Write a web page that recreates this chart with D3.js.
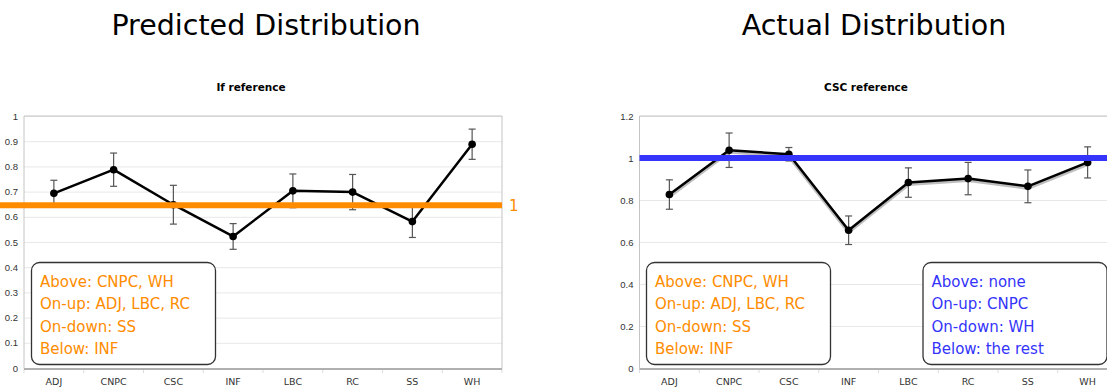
<!DOCTYPE html>
<html>
<head>
<meta charset="UTF-8">
<title>Predicted vs Actual Distribution</title>
<script src="https://d3js.org/d3.v7.min.js"></script>
<style>
  body { margin: 0; background: #fff; }
  svg { display: block; font-family: "DejaVu Sans", Verdana, sans-serif; }
  .grid line { stroke: #e8e8e8; }
  .grid text { fill: #333; font-size: 9.5px; }
  .xlab { fill: #333; font-size: 9.5px; text-anchor: middle; }
</style>
</head>
<body>
<svg width="1107" height="389"></svg>
<script>
  // categories on the x axis (both charts)
  var categories = ['ADJ', 'CNPC', 'CSC', 'INF', 'LBC', 'RC', 'SS', 'WH']

  // left chart: "If reference"
  var predictedMeans = [0.693, 0.787, 0.648, 0.522, 0.703, 0.698, 0.581, 0.888]
  var predictedErr = [0.052, 0.066, 0.077, 0.051, 0.067, 0.070, 0.063, 0.060]
  var predictedTicks = [0, 0.1, 0.2, 0.3, 0.4, 0.5, 0.6, 0.7, 0.8, 0.9, 1]
  var predictedRef = 0.646

  // right chart: "CSC reference"
  var actualMeans = [0.826, 1.037, 1.018, 0.656, 0.883, 0.902, 0.865, 0.979]
  var actualErr = [0.070, 0.082, 0.032, 0.068, 0.070, 0.077, 0.078, 0.074]
  var actualTicks = [0, 0.2, 0.4, 0.6, 0.8, 1, 1.2]
  var actualRef = 1

  // annotation boxes
  var orangeNotes = ['Above: CNPC, WH', 'On-up: ADJ, LBC, RC', 'On-down: SS', 'Below: INF']
  var blueNotes = ['Above: none', 'On-up: CNPC', 'On-down: WH', 'Below: the rest']

  var ORANGE = '#ff8c00'
  var BLUE = '#3434fb'

  var svg = d3.select('svg')

  // big slide titles
  svg.append('text').attr('x', 266).attr('y', 35).attr('text-anchor', 'middle')
    .style('font-size', '28.5px').text('Predicted Distribution')
  svg.append('text').attr('x', 874).attr('y', 35).attr('text-anchor', 'middle')
    .style('font-size', '28.5px').text('Actual Distribution')

  function drawNote(left, lines, color) {
    var top = 262.5
    svg.append('rect')
      .attr('x', left).attr('y', top)
      .attr('width', 184).attr('height', 102)
      .attr('rx', 8).attr('ry', 8)
      .attr('fill', '#fff').attr('stroke', '#333').attr('stroke-width', 1.3)
    svg.selectAll(null).data(lines).enter().append('text')
      .attr('x', left + 8.5)
      .attr('y', function(d, i) { return top + 24 + i * 22.6 })
      .attr('fill', color)
      .style('font-size', '15px')
      .text(function(d) { return d })
  }

  function drawPanel(cfg) {
    var x = d3.scaleBand().domain(categories).range([cfg.left, cfg.left + 8 * 59.75])
    var y = d3.scaleLinear().domain([0, cfg.ticks[cfg.ticks.length - 1]]).range([368, 116])
    var right = x.range()[1]
    var g = svg.append('g')

    g.append('text').attr('x', cfg.subX).attr('y', 91).attr('text-anchor', 'middle')
      .style('font-size', '10.5px').style('font-weight', 'bold').text(cfg.subtitle)

    // grid + y labels
    g.append('g').attr('class', 'grid')
      .attr('transform', 'translate(' + cfg.left + ',0)')
      .call(d3.axisLeft(y).tickValues(cfg.ticks).tickSize(-(right - cfg.left)).tickPadding(6)
        .tickFormat(function(d) { return String(+d.toFixed(1)) }))
      .call(function(a) { a.select('.domain').remove() })

    // frame
    g.append('line').attr('x1', cfg.left).attr('x2', right).attr('y1', y.range()[1]).attr('y2', y.range()[1])
      .attr('stroke', '#c4c4c4')
    g.append('line').attr('x1', cfg.left).attr('x2', cfg.left).attr('y1', 116).attr('y2', 368)
      .attr('stroke', '#c4c4c4')
    g.append('line').attr('x1', right).attr('x2', right).attr('y1', 116).attr('y2', 368)
      .attr('stroke', '#c4c4c4')

    // bottom axis with band separators
    d3.range(categories.length + 1).forEach(function(i) {
      var px = cfg.left + i * x.step()
      g.append('line').attr('x1', px).attr('x2', px).attr('y1', 368).attr('y2', 373)
        .attr('stroke', '#ddd')
    })
    g.append('line').attr('x1', cfg.left).attr('x2', right).attr('y1', 369).attr('y2', 369)
      .attr('stroke', '#b0b0b0').attr('stroke-width', 2)
    g.selectAll('.xlab').data(categories).enter().append('text')
      .attr('class', 'xlab')
      .attr('x', function(d) { return x(d) + x.bandwidth() / 2 })
      .attr('y', 385)
      .text(function(d) { return d })

    var pts = categories.map(function(c, i) {
      return { c: c, v: cfg.means[i], e: cfg.err[i] }
    })
    var cx = function(d) { return x(d.c) + x.bandwidth() / 2 }

    // error bars
    var eb = g.selectAll('.eb').data(pts).enter().append('g').attr('stroke', '#555').attr('stroke-width', 1.2)
    eb.append('line').attr('x1', cx).attr('x2', cx)
      .attr('y1', function(d) { return y(d.v + d.e) }).attr('y2', function(d) { return y(d.v - d.e) })
    eb.append('line').attr('x1', function(d) { return cx(d) - 3.5 }).attr('x2', function(d) { return cx(d) + 3.5 })
      .attr('y1', function(d) { return y(d.v + d.e) }).attr('y2', function(d) { return y(d.v + d.e) })
    eb.append('line').attr('x1', function(d) { return cx(d) - 3.5 }).attr('x2', function(d) { return cx(d) + 3.5 })
      .attr('y1', function(d) { return y(d.v - d.e) }).attr('y2', function(d) { return y(d.v - d.e) })

    var line = d3.line().x(cx).y(function(d) { return y(d.v) })

    if (cfg.shadow) {
      g.append('path').datum(pts).attr('d', line).attr('fill', 'none')
        .attr('stroke', '#888').attr('stroke-width', 4).attr('opacity', 0.55)
        .attr('transform', 'translate(0,1.5)')
    }
    g.append('path').datum(pts).attr('d', line).attr('fill', 'none')
      .attr('stroke', '#000').attr('stroke-width', 2.5).attr('stroke-linejoin', 'round')
    g.selectAll('.dot').data(pts).enter().append('circle')
      .attr('cx', cx).attr('cy', function(d) { return y(d.v) }).attr('r', 3.8).attr('fill', '#000')

    // reference line
    g.append('line').attr('x1', cfg.refFrom).attr('x2', cfg.refTo)
      .attr('y1', y(cfg.ref)).attr('y2', y(cfg.ref))
      .attr('stroke', cfg.refColor).attr('stroke-width', 6)
    if (cfg.refLabel) {
      g.append('text').attr('x', cfg.refTo + 7).attr('y', y(cfg.ref) + 5.5)
        .attr('fill', cfg.refColor).style('font-size', '15px').text(cfg.refLabel)
    }
  }

  drawPanel({
    left: 24, subtitle: 'If reference', subX: 251,
    means: predictedMeans, err: predictedErr, ticks: predictedTicks,
    ref: predictedRef, refColor: ORANGE, refFrom: 0, refTo: 502, refLabel: '1', shadow: false
  })
  drawPanel({
    left: 639.5, subtitle: 'CSC reference', subX: 866,
    means: actualMeans, err: actualErr, ticks: actualTicks,
    ref: actualRef, refColor: BLUE, refFrom: 639.5, refTo: 1107, refLabel: null, shadow: true
  })

  drawNote(31.5, orangeNotes, ORANGE)
  drawNote(646.5, orangeNotes, ORANGE)
  drawNote(923, blueNotes, BLUE)
</script>
</body>
</html>
